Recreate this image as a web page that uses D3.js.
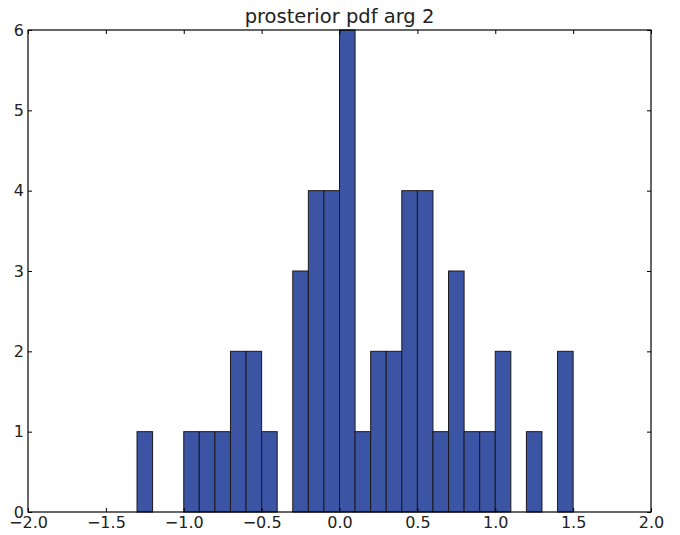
<!DOCTYPE html>
<html><head><meta charset="utf-8">
<script src="https://cdn.jsdelivr.net/npm/d3@7"></script>
<style>body{margin:0;background:#fff}svg{display:block}</style>
</head><body>
<script>
const binStarts = [-1.3,-1.0,-0.9,-0.8,-0.7,-0.6,-0.5,-0.3,-0.2,-0.1,0.0,0.1,0.2,0.3,0.4,0.5,0.6,0.7,0.8,0.9,1.0,1.2,1.4];
const counts    = [1,1,1,1,2,2,1,3,4,4,6,1,2,2,4,4,1,3,1,1,2,1,2];
const binWidth = 0.1;
const xTicks = [-2.0,-1.5,-1.0,-0.5,0.0,0.5,1.0,1.5,2.0];
const yTicks = [0,1,2,3,4,5,6];
const title = "prosterior pdf arg 2";

(function(){
const W = 680, H = 535;
const m = {l:28, r:29, t:30, b:23};
const svg = d3.select("body").append("svg").attr("width", W).attr("height", H);
const x = d3.scaleLinear().domain([-2,2]).range([m.l, W-m.r]);
const y = d3.scaleLinear().domain([0,6]).range([H-m.b, m.t]);
const font = "DejaVu Sans, sans-serif";

svg.append("g").selectAll("rect").data(binStarts).join("rect")
  .attr("x", d => x(d))
  .attr("y", (d,i) => y(counts[i]))
  .attr("width", d => x(d+binWidth) - x(d))
  .attr("height", (d,i) => y(0) - y(counts[i]))
  .attr("fill", "#3c54a4")
  .attr("stroke", "#1a1a1a")
  .attr("stroke-width", 1);

const fmt = d3.format(".1f");
const tickFmt = d => fmt(d).replace("-", "\u2212");
const axB = d3.axisBottom(x).tickValues(xTicks).tickSizeInner(-4).tickSizeOuter(0).tickPadding(5).tickFormat(tickFmt);
const axT = d3.axisTop(x).tickValues(xTicks).tickSizeInner(-4).tickSizeOuter(0).tickFormat("");
const axL = d3.axisLeft(y).tickValues(yTicks).tickSizeInner(-4).tickSizeOuter(0).tickPadding(4).tickFormat(d3.format("d"));
const axR = d3.axisRight(y).tickValues(yTicks).tickSizeInner(-4).tickSizeOuter(0).tickFormat("");

function style(g){
  g.select(".domain").remove();
  g.selectAll("line").attr("stroke","#000");
  g.selectAll("text").attr("font-family", font).attr("font-size", 16).attr("fill","#222");
}
svg.append("g").attr("transform",`translate(0,${H-m.b})`).call(axB).call(style);
svg.append("g").attr("transform",`translate(0,${m.t})`).call(axT).call(style);
svg.append("g").attr("transform",`translate(${m.l},0)`).call(axL).call(style);
svg.append("g").attr("transform",`translate(${W-m.r},0)`).call(axR).call(style);

svg.append("rect").attr("x", m.l).attr("y", m.t).attr("width", W-m.l-m.r).attr("height", H-m.t-m.b)
  .attr("fill","none").attr("stroke","#000").attr("stroke-width",1.2);

svg.append("text").attr("x", (m.l + W - m.r)/2).attr("y", m.t - 7)
  .attr("text-anchor","middle").attr("font-family", font).attr("font-size", 19.5).attr("fill","#222")
  .text(title);
})();
</script>
</body></html>
